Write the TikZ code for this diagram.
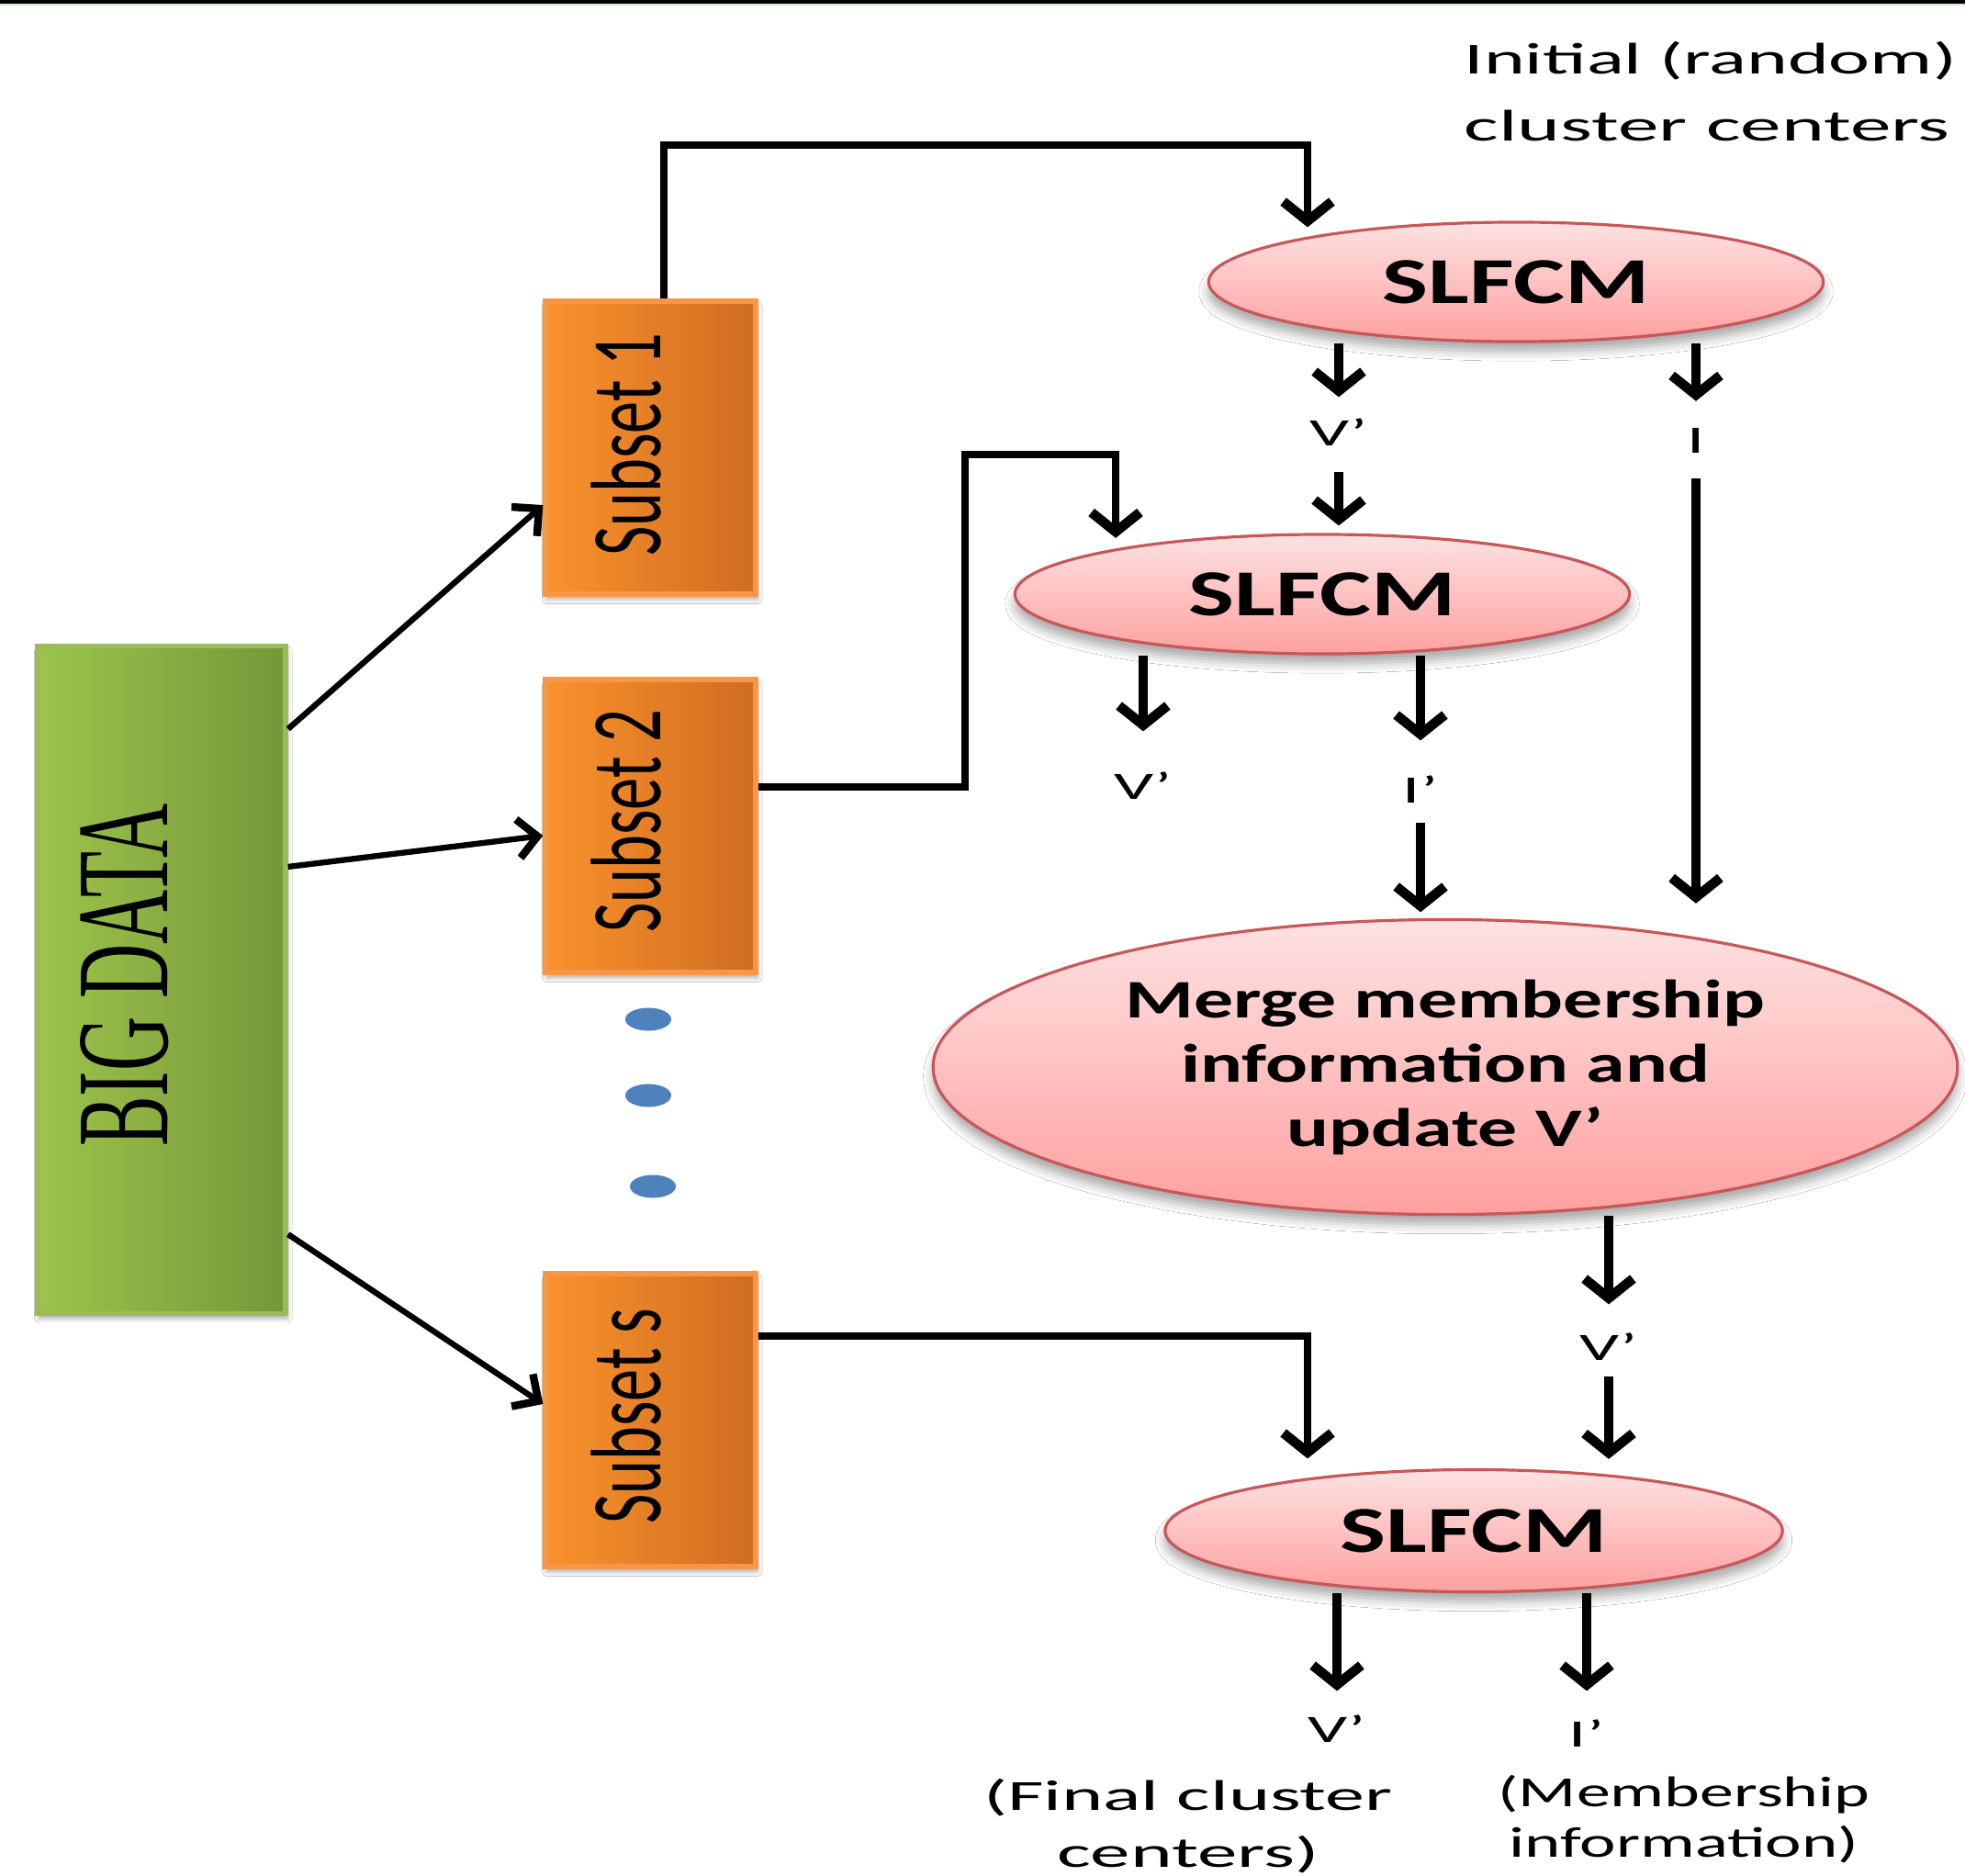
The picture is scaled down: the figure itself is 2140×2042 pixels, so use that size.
\documentclass[tikz,border=0pt]{standalone}
\usepackage{graphicx}
\usepackage{fontspec}
\setmainfont{Carlito}
\newfontfamily\bigserif{Liberation Serif}
\usetikzlibrary{arrows.meta,shapes.geometric,shadows.blur}

\definecolor{ellTop}{HTML}{FDE2E2}
\definecolor{ellBot}{HTML}{FFA0A0}
\definecolor{ellLine}{HTML}{C8575A}
\definecolor{subL}{HTML}{F9922D}
\definecolor{subR}{HTML}{D06C21}
\definecolor{subLine}{HTML}{F79646}
\definecolor{bigL}{HTML}{9DC44B}
\definecolor{bigR}{HTML}{76963A}
\definecolor{bigLine}{HTML}{9BBB59}
\definecolor{dotBlue}{HTML}{4F81BD}
\definecolor{rimGreen}{HTML}{C6EFCE}

% horizontal / vertical stretching of set text
\newcommand{\wide}[2]{\scalebox{#1}[1]{#2}}
\newcommand{\tall}[2]{\scalebox{1}[#1]{#2}}

\begin{document}
\begin{tikzpicture}[x=0.01cm,y=-0.01cm,
  every node/.style={inner sep=0pt},
  bigbox/.style={rectangle, draw=bigLine, line width=1.5pt, left color=bigL, right color=bigR,
    minimum width=2.70cm, minimum height=7.26cm,
    blur shadow={shadow xshift=0.5pt, shadow yshift=-1.5pt, shadow blur radius=1.5pt, shadow opacity=35}},
  bigtxt/.style={rotate=90, font=\bigserif\fontsize{23.3}{28}\selectfont},
  subbox/.style={rectangle, draw=subLine, line width=1.5pt, left color=subL, right color=subR,
    minimum width=2.29cm, minimum height=3.19cm,
    blur shadow={shadow xshift=0.5pt, shadow yshift=-1.5pt, shadow blur radius=1.5pt, shadow opacity=35}},
  subtxt/.style={rotate=90, font=\fontsize{20}{24}\selectfont},
  ell/.style={ellipse, draw=ellLine, line width=0.9pt, top color=ellTop, bottom color=ellBot,
    blur shadow={shadow xshift=0pt, shadow yshift=-3pt, shadow blur radius=3pt, shadow opacity=35}},
  slf/.style={ell, minimum width=6.69cm, minimum height=1.30cm, font=\bfseries\fontsize{20.3}{24}\selectfont},
  dotmark/.style={ellipse, fill=dotBlue, minimum width=0.50cm, minimum height=0.25cm},
  lbl/.style={font=\fontsize{12}{14}\selectfont},
  btxt/.style={font=\fontsize{13.3}{16}\selectfont},
  arr/.style={line width=2.8pt, -{Straight Barb[length=6pt,width=15pt,line width=3pt]}},
  elb/.style={line width=2.4pt, -{Straight Barb[length=6pt,width=15pt,line width=3pt]}},
  thin/.style={line width=1.8pt, -{Straight Barb[length=6pt,width=12pt,line width=2.4pt]}}
]
\useasboundingbox (0,0) rectangle (2140,2042);
\fill[white] (0,0) rectangle (2140,2042);

% rule along the top edge
\fill[black] (0,0) rectangle (2140,4);
\fill[rimGreen] (0,4) rectangle (2140,6);

% data source and its subsets
\node[bigbox] (big) at (176,1067) {};
\node[bigtxt] (bigt) at (136,1062) {\tall{1.75}{BIG DATA}};

\node[subbox] (s1) at (708.5,487.5) {};
\node[subtxt] (s1t) at (682,484) {\tall{1.55}{Subset 1}};
\node[subbox] (s2) at (708.5,899.5) {};
\node[subtxt] (s2t) at (682,894) {\tall{1.55}{Subset 2}};
\node[subbox] (s3) at (708.5,1546.5) {};
\node[subtxt] (s3t) at (682,1542) {\tall{1.55}{Subset s}};

\node[dotmark] (d1) at (706,1110) {};
\node[dotmark] (d2) at (706,1193) {};
\node[dotmark] (d3) at (711,1292) {};

% processing stages
\node[slf] (e1) at (1651,307) {\wide{1.48}{SLFCM}};
\node[slf] (e2) at (1440,647) {\wide{1.48}{SLFCM}};
\node[ell, minimum width=11.15cm, minimum height=3.21cm, align=center,
      font=\bfseries\fontsize{16.8}{19.9}\selectfont] (m) at (1574,1162)
  {\wide{1.45}{Merge membership}\\\wide{1.45}{information and}\\\wide{1.45}{update V’}};
\node[slf, minimum width=6.72cm, minimum height=1.33cm] (e3) at (1605,1667) {\wide{1.48}{SLFCM}};

% initial centres
\node[lbl, font=\fontsize{13.7}{16}\selectfont, anchor=west] (in1) at (1594,66) {\wide{1.77}{Initial (random)}};
\node[lbl, font=\fontsize{13.7}{16}\selectfont, anchor=west] (in2) at (1594,137) {\wide{1.85}{cluster centers}};

% intermediate results
\node[lbl] (vA) at (1458,471) {\wide{1.8}{V’}};
\node[lbl] (iA) at (1847,480) {\wide{1.8}{I}};
\node[lbl] (vB) at (1245,856) {\wide{1.8}{V’}};
\node[lbl] (iB) at (1547,860) {\wide{1.8}{I’}};
\node[lbl] (vC) at (1752,1467) {\wide{1.8}{V’}};
\node[lbl] (vD) at (1456,1883) {\wide{1.8}{V’}};
\node[lbl] (iD) at (1728,1888) {\wide{1.8}{I’}};

% final outputs
\node[btxt] (fc1) at (1294,1958) {\wide{1.84}{(Final cluster}};
\node[btxt] (fc2) at (1294,2020) {\wide{1.86}{centers)}};
\node[btxt] (mi1) at (1834,1954) {\wide{1.58}{(Membership}};
\node[btxt] (mi2) at (1834,2009) {\wide{1.6}{information)}};

% bend points of the subset feeds
\coordinate (k1) at (1424,158);
\coordinate (k2) at (1051,495);
\coordinate (k2b) at (1215,495);
\coordinate (k3) at (1424,1455);

% data split
\draw[thin] ([yshift=2.73cm]big.east) -- ([yshift=-0.625cm]s1.west);
\draw[thin] ([yshift=1.23cm]big.east) -- ([yshift=-0.105cm]s2.west);
\draw[thin] ([yshift=-2.77cm]big.east) -- ([yshift=0.175cm]s3.west);

% subsets feeding the stages
\draw[elb, shorten >=-0.07cm] ([xshift=0.145cm]s1.north) |- (k1) -- (k1 |- e1.north);
\draw[elb, shorten >=-0.055cm] ([yshift=0.425cm]s2.east) -| (k2) -| (k2b |- e2.north);
\draw[elb, shorten >=0.105cm] ([yshift=0.915cm]s3.east) -| (k3 |- e3.north);

% flow between stages
\draw[arr, shorten >=0.23cm] (vA |- e1.south) -- (vA.north);
\draw[arr, shorten <=0.27cm, shorten >=0.08cm] (vA.south) -- (vA |- e2.north);
\draw[arr, shorten >=0.29cm] (iA |- e1.south) -- (iA.north);
\draw[arr, shorten <=0.27cm, shorten >=0.16cm] (iA.south) -- (iA |- m.north);
\draw[arr, shorten >=0.44cm] (vB |- e2.south) -- (vB.north);
\draw[arr, shorten >=0.38cm] (iB |- e2.south) -- (iB.north);
\draw[arr, shorten <=0.2cm, shorten >=0.065cm] (iB.south) -- (iB |- m.north);
\draw[arr, shorten >=0.31cm] (vC |- m.south) -- (vC.north);
\draw[arr, shorten <=0.16cm, shorten >=0.1cm] (vC.south) -- (vC |- e3.north);
\draw[arr, shorten >=0.26cm] (vD |- e3.south) -- (vD.north);
\draw[arr, shorten >=0.31cm] (iD |- e3.south) -- (iD.north);
\end{tikzpicture}
\end{document}
